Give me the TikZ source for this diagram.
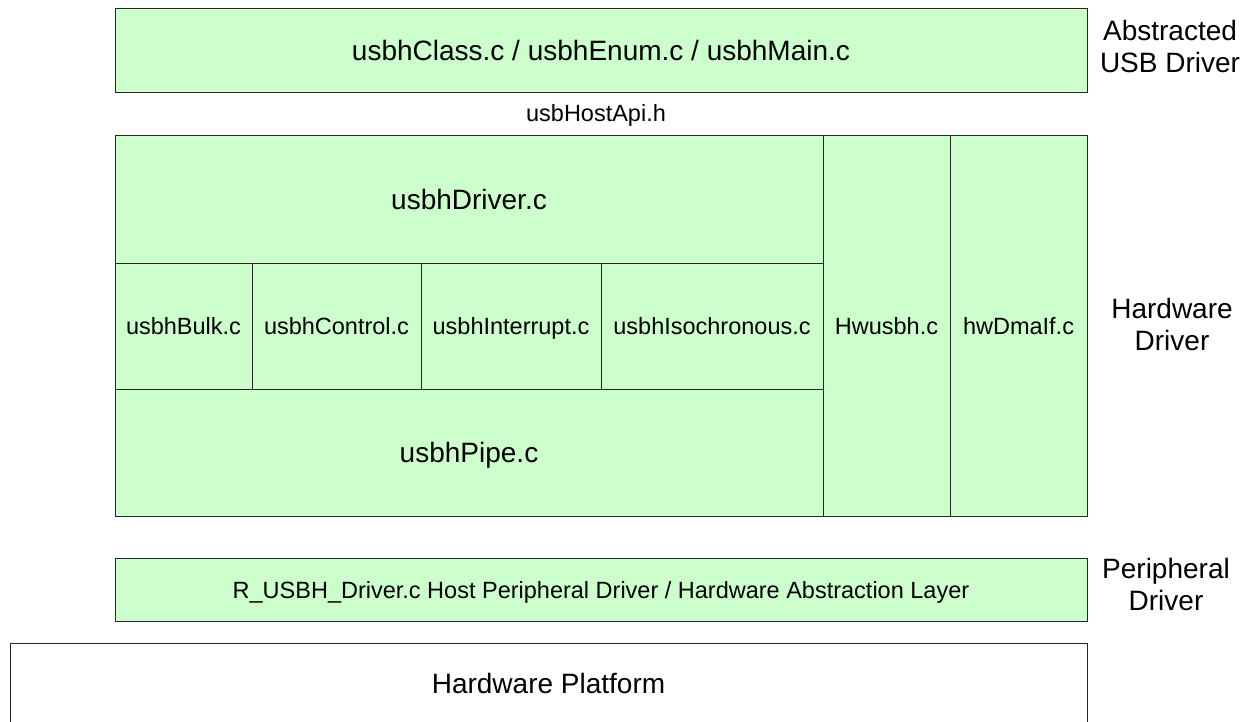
\documentclass[tikz,border=0pt]{standalone}
\usepackage{fontspec}
\setmainfont{Liberation Sans}
\definecolor{filegreen}{HTML}{CCFFCC}
\begin{document}
\begin{tikzpicture}[x=1pt,y=-1pt,
        file/.style={draw=black!85, line width=1pt, fill=filegreen, inner sep=0pt, text height=17pt, text depth=0pt, font=\fontsize{23.5}{27}\selectfont},
        bigfile/.style={file, text height=20pt, text depth=0pt, font=\fontsize{28}{32}\selectfont},
        layer/.style={align=center, font=\fontsize{28}{32}\selectfont}]
        \useasboundingbox (0,0) rectangle (1250,722);
        % abstracted USB driver
        \node[bigfile, minimum width=972, minimum height=84] (cls) at (601,51) {usbhClass.c / usbhEnum.c / usbhMain.c};
        \node[font=\fontsize{23.5}{27}\selectfont] (api) at (596,115) {usbHostApi.h};
        % hardware driver
        \node[bigfile, minimum width=708, minimum height=127] (drv) at (469,199.5) {usbhDriver.c};
        \node[file, minimum width=137, minimum height=126] (bulk) at (183.5,326) {usbhBulk.c};
        \node[file, minimum width=169, minimum height=126] (ctrl) at (336.5,326) {usbhControl.c};
        \node[file, minimum width=180, minimum height=126] (intr) at (511,326) {usbhInterrupt.c};
        \node[file, minimum width=222, minimum height=126] (iso) at (712,326) {usbhIsochronous.c};
        \node[bigfile, minimum width=708, minimum height=127] (pipe) at (469,452.5) {usbhPipe.c};
        \node[file, minimum width=127, minimum height=380] (hw) at (886.5,326) {Hwusbh.c};
        \node[file, minimum width=137, minimum height=380] (dma) at (1018.5,326) {hwDmaIf.c};
        % peripheral driver and platform
        \node[file, minimum width=972, minimum height=63] (hal) at (601,589.5) {R\_USBH\_Driver.c Host Peripheral Driver / Hardware Abstraction Layer};
        \node[bigfile, fill=white, minimum width=1077, minimum height=81] (plat) at (548.5,683.5) {Hardware Platform};
        % layer names
        \node[layer] (absl) at (1170,46) {Abstracted\\USB Driver};
        \node[layer] (hwl) at (1172,324) {Hardware\\Driver};
        \node[layer] (perl) at (1166,584) {Peripheral\\Driver};
    \end{tikzpicture}
\end{document}
